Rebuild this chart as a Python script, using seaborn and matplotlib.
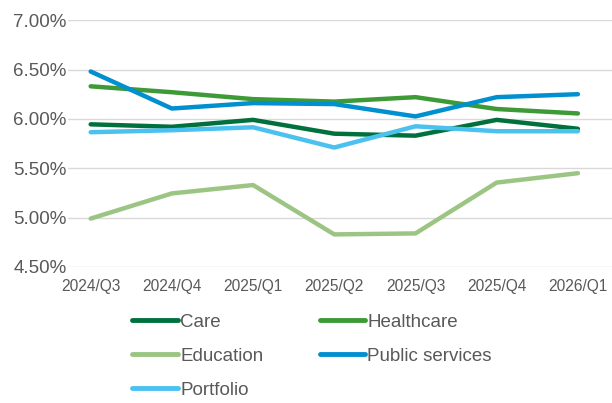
import pandas as pd
import numpy as np
import matplotlib
matplotlib.use('Agg')
import matplotlib.pyplot as plt
import seaborn as sns
from matplotlib.ticker import FuncFormatter

sns.set_style("white")
plt.rcParams['font.family'] = ['Liberation Sans', 'DejaVu Sans']

quarters = ['2024/Q3', '2024/Q4', '2025/Q1', '2025/Q2', '2025/Q3', '2025/Q4', '2026/Q1']
care = [5.945, 5.92, 5.99, 5.85, 5.83, 5.99, 5.90]
healthcare = [6.33, 6.27, 6.20, 6.175, 6.22, 6.10, 6.055]
education = [4.99, 5.245, 5.33, 4.83, 4.84, 5.355, 5.45]
public_services = [6.48, 6.105, 6.16, 6.15, 6.025, 6.22, 6.25]
portfolio = [5.865, 5.885, 5.915, 5.71, 5.925, 5.875, 5.875]

series = {'Care': care, 'Healthcare': healthcare, 'Education': education,
          'Public services': public_services, 'Portfolio': portfolio}
palette = {'Care': '#00703C', 'Healthcare': '#3D9A37', 'Education': '#9CC584',
           'Public services': '#008FCF', 'Portfolio': '#4BC1EF'}

df = pd.DataFrame(series)
df['quarter'] = quarters
df['x'] = np.arange(len(quarters))
long_df = df.melt(id_vars=['quarter', 'x'], var_name='Sector', value_name='rate')

fig = plt.figure(figsize=(6.12, 4.03), dpi=100)
ax = fig.add_axes([0.111, 0.3375, 0.889, 0.6125])
sns.lineplot(data=long_df, x='x', y='rate', hue='Sector', palette=palette,
             linewidth=3.2, ax=ax, legend=False, solid_capstyle='round')

ax.set_xlim(-0.28, 6.42)
ax.set_ylim(4.5, 7.0)
ax.set_yticks(np.arange(4.5, 7.01, 0.5))
ax.yaxis.set_major_formatter(FuncFormatter(lambda v, p: f'{v:.2f}%'))
ax.set_xticks(df['x'])
ax.set_xticklabels(quarters)
ax.tick_params(axis='y', labelsize=13.5, colors='#595959', length=0, pad=1)
ax.tick_params(axis='x', labelsize=11.2, colors='#595959', length=0, pad=9)
ax.grid(axis='y', color='#D9D9D9', linewidth=1)
ax.set_xlabel('')
ax.set_ylabel('')
for s in ax.spines.values():
    s.set_visible(False)

# legend: row-wise layout, matplotlib fills columns first
order = ['Care', 'Education', 'Portfolio', 'Healthcare', 'Public services']
handles = [plt.Line2D([], [], color=palette[k], linewidth=3.5, solid_capstyle='round') for k in order]
leg = fig.legend(handles, order, loc='upper left', bbox_to_anchor=(0.216, 0.221),
                 ncol=2, frameon=False, fontsize=13.5, handlelength=2.45,
                 handletextpad=0.1, columnspacing=3.0, labelspacing=0.9,
                 borderaxespad=0, borderpad=0)
for t in leg.get_texts():
    t.set_color('#595959')

fig.savefig('out.png', dpi=100)
